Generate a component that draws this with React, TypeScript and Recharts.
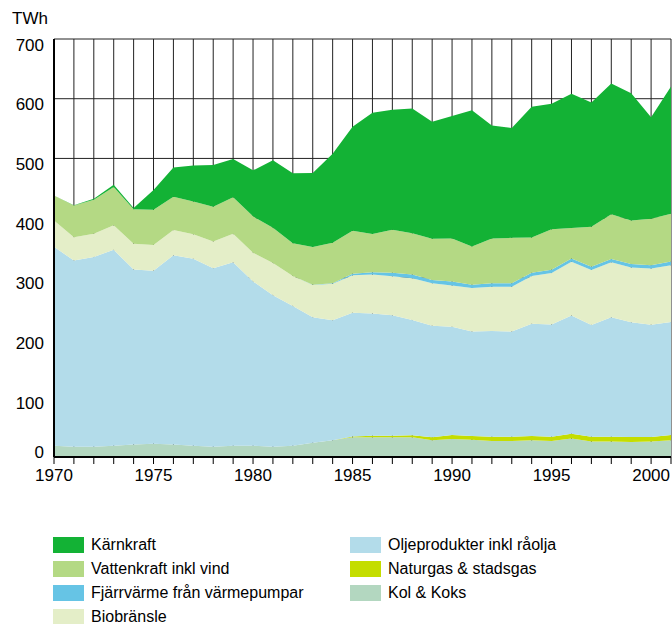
import { AreaChart, Area, XAxis, YAxis, CartesianGrid } from "recharts"

const years = [
  1970, 1971, 1972, 1973, 1974, 1975, 1976, 1977, 1978, 1979, 1980, 1981, 1982, 1983, 1984, 1985,
  1986, 1987, 1988, 1989, 1990, 1991, 1992, 1993, 1994, 1995, 1996, 1997, 1998, 1999, 2000, 2001,
]
const kolKoks = [19, 17, 17, 19, 21, 22, 21, 19, 17, 19, 19, 17, 19, 24, 28, 33, 33, 33, 33, 28, 30, 29, 27, 27, 28, 27, 31, 26, 26, 25, 26, 28]
const naturgas = [0, 0, 0, 0, 0, 0, 0, 0, 0, 0, 0, 0, 0, 0, 0, 1.5, 2.5, 2.5, 3.5, 5, 7, 6, 7, 7, 7, 7, 8, 8, 8, 8.5, 7.5, 9]
const oljeprodukter = [333, 312, 318, 328, 293, 290, 317, 313, 299, 307, 275, 254, 234, 210, 201, 207, 205, 202, 193, 187, 181, 175, 177, 176, 188, 188, 198, 187, 200, 192, 188, 189]
const biobransle = [44, 39, 39, 41, 43, 43, 42, 41, 45, 48, 48, 54, 50, 54, 61, 63, 65, 65, 70, 71, 69, 73, 74, 75, 80, 86, 90, 92, 92, 92, 94, 95]
const fjarrvarme = [0, 0, 0, 0, 0, 0, 0, 0, 0, 0, 0, 0, 0, 0.5, 1, 2.5, 4, 6, 6, 5.5, 7, 5.5, 6, 6, 5.5, 5.5, 5.5, 5.5, 5.5, 5.5, 5.5, 6.5]
const vattenkraft = [42, 53, 57, 64, 58, 59, 56, 55, 58, 61, 61, 59, 55, 63, 68, 72, 64, 72, 69, 69, 72, 64, 75, 76, 59, 68, 51, 67, 75, 73, 78, 80]
const karnkraft = [0, 0.5, 1.5, 4, 2, 33, 49, 60, 70, 64, 77, 113, 117, 124, 149, 174, 203, 201, 209, 196, 205, 228, 189, 184, 219, 210, 225, 208, 219, 213, 170, 213]
const yTicks = [0, 100, 200, 300, 400, 500, 600, 700]

const series = [
  { key: "kol", name: "Kol & Koks", values: kolKoks, color: "#b3d7c0" },
  { key: "gas", name: "Naturgas & stadsgas", values: naturgas, color: "#c4dd00" },
  { key: "olja", name: "Oljeprodukter inkl råolja", values: oljeprodukter, color: "#b3dcea" },
  { key: "bio", name: "Biobränsle", values: biobransle, color: "#e4eec8" },
  { key: "fjv", name: "Fjärrvärme från värmepumpar", values: fjarrvarme, color: "#66c4e5" },
  { key: "vatten", name: "Vattenkraft inkl vind", values: vattenkraft, color: "#b4d984" },
  { key: "karn", name: "Kärnkraft", values: karnkraft, color: "#13b235" },
]

const data = years.map((year, i) => {
  const row: Record<string, number> = { year }
  series.forEach((s) => {
    row[s.key] = s.values[i]
  })
  return row
})

const font = '"Liberation Sans", Arial, sans-serif'

const leftLegend = ["karn", "vatten", "fjv", "bio"]
const rightLegend = ["olja", "gas", "kol"]

function YTick({ y, payload }: any) {
  const dy = payload.value === 0 ? -5 : 6
  return (
    <text x={44} y={y + dy} textAnchor="end" dominantBaseline="central" fontSize={17} fill="#000" fontFamily={font}>
      {payload.value}
    </text>
  )
}

function XTick({ x, payload }: any) {
  if (payload.value % 5 !== 0) return null
  return (
    <text x={x} y={481} textAnchor="middle" fontSize={17} fill="#000" fontFamily={font}>
      {payload.value}
    </text>
  )
}

function LegendColumn({ keys, left }: { keys: string[]; left: number }) {
  return (
    <div style={{ position: "absolute", left, top: 537 }}>
      {keys.map((k) => {
        const s = series.find((d) => d.key === k)!
        return (
          <div key={k} style={{ display: "flex", alignItems: "center", height: 16, marginBottom: 8 }}>
            <div style={{ width: 31, height: 16, background: s.color }} />
            <span style={{ marginLeft: 7, fontSize: 16, fontFamily: font, color: "#000", whiteSpace: "nowrap" }}>
              {s.name}
            </span>
          </div>
        )
      })}
    </div>
  )
}

export default function App() {
  return (
    <div style={{ position: "relative", width: 672, height: 624, background: "#fff", overflow: "hidden" }}>
      <style>{"body{margin:0}"}</style>
      <div style={{ position: "absolute", left: 12, top: 9, fontSize: 17, fontFamily: font }}>TWh</div>
      <AreaChart width={672} height={500} data={data} margin={{ top: 39, right: 1, bottom: 0, left: 0 }}>
        <CartesianGrid stroke="#222" strokeWidth={1} />
        <XAxis
          dataKey="year"
          type="number"
          domain={[1970, 2001]}
          ticks={years}
          interval={0}
          height={43}
          tickSize={7}
          tick={<XTick />}
          axisLine={{ stroke: "#000", strokeWidth: 2 }}
          tickLine={{ stroke: "#000" }}
        />
        <YAxis
          type="number"
          domain={[0, 700]}
          ticks={yTicks}
          width={54}
          tickLine={false}
          tick={<YTick />}
          axisLine={{ stroke: "#000", strokeWidth: 2 }}
        />
        {series.map((s) => (
          <Area
            key={s.key}
            dataKey={s.key}
            stackId="1"
            type="linear"
            stroke="none"
            fill={s.color}
            fillOpacity={1}
            isAnimationActive={false}
          />
        ))}
      </AreaChart>
      <LegendColumn keys={leftLegend} left={53} />
      <LegendColumn keys={rightLegend} left={350} />
    </div>
  )
}
